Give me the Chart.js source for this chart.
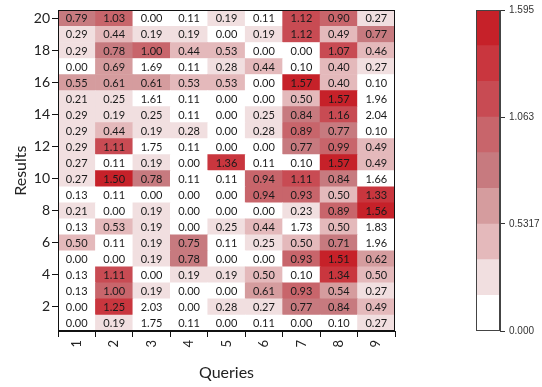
<!DOCTYPE html>
<html>
<head>
<meta charset="utf-8">
<script src="https://cdn.jsdelivr.net/npm/chart.js@4.4.1/dist/chart.umd.min.js"></script>
<style>
  html, body { margin: 0; padding: 0; background: #ffffff; }
  #wrap { position: relative; width: 542px; height: 387px; overflow: hidden; }
  #heatBox { position: absolute; left: 0; top: 0; width: 440px; height: 387px; }
  #barBox { position: absolute; left: 440px; top: 0; width: 102px; height: 387px; }
</style>
</head>
<body>
<div id="wrap">
  <div id="heatBox"><canvas id="heat"></canvas></div>
  <div id="barBox"><canvas id="scaleBar"></canvas></div>
</div>
<script>
// Query columns and result rows
const queries = ['1', '2', '3', '4', '5', '6', '7', '8', '9'];
const resultTicks = [2, 4, 6, 8, 10, 12, 14, 16, 18, 20];

// Scores per result (values for queries 1..9)
const res20 = [0.79, 1.03, 0.00, 0.11, 0.19, 0.11, 1.12, 0.90, 0.27];
const res19 = [0.29, 0.44, 0.19, 0.19, 0.00, 0.19, 1.12, 0.49, 0.77];
const res18 = [0.29, 0.78, 1.00, 0.44, 0.53, 0.00, 0.00, 1.07, 0.46];
const res17 = [0.00, 0.69, 1.69, 0.11, 0.28, 0.44, 0.10, 0.40, 0.27];
const res16 = [0.55, 0.61, 0.61, 0.53, 0.53, 0.00, 1.57, 0.40, 0.10];
const res15 = [0.21, 0.25, 1.61, 0.11, 0.00, 0.00, 0.50, 1.57, 1.96];
const res14 = [0.29, 0.19, 0.25, 0.11, 0.00, 0.25, 0.84, 1.16, 2.04];
const res13 = [0.29, 0.44, 0.19, 0.28, 0.00, 0.28, 0.89, 0.77, 0.10];
const res12 = [0.29, 1.11, 1.75, 0.11, 0.00, 0.00, 0.77, 0.99, 0.49];
const res11 = [0.27, 0.11, 0.19, 0.00, 1.36, 0.11, 0.10, 1.57, 0.49];
const res10 = [0.27, 1.50, 0.78, 0.11, 0.11, 0.94, 1.11, 0.84, 1.66];
const res9  = [0.13, 0.11, 0.00, 0.00, 0.00, 0.94, 0.93, 0.50, 1.33];
const res8  = [0.21, 0.00, 0.19, 0.00, 0.00, 0.00, 0.23, 0.89, 1.56];
const res7  = [0.13, 0.53, 0.19, 0.00, 0.25, 0.44, 1.73, 0.50, 1.83];
const res6  = [0.50, 0.11, 0.19, 0.75, 0.11, 0.25, 0.50, 0.71, 1.96];
const res5  = [0.00, 0.00, 0.19, 0.78, 0.00, 0.00, 0.93, 1.51, 0.62];
const res4  = [0.13, 1.11, 0.00, 0.19, 0.19, 0.50, 0.10, 1.34, 0.50];
const res3  = [0.13, 1.00, 0.19, 0.00, 0.00, 0.61, 0.93, 0.54, 0.27];
const res2  = [0.00, 1.25, 2.03, 0.00, 0.28, 0.27, 0.77, 0.84, 0.49];
const res1  = [0.00, 0.19, 1.75, 0.11, 0.00, 0.11, 0.00, 0.10, 0.27];

const resultRows = [res1, res2, res3, res4, res5, res6, res7, res8, res9, res10,
                    res11, res12, res13, res14, res15, res16, res17, res18, res19, res20];

// Colour scale: 9 equal steps from 0 to the maximum; values above it stay white
const scaleMax = 1.595;
const scaleTickValues = [0, 0.5317, 1.063, 1.595];
const scaleTickLabels = ['0.000', '0.5317', '1.063', '1.595'];
const stepColors = ['#ffffff', '#f1dfe0', '#e4b9bb', '#d59c9e', '#c77a7f',
                    '#c8656b', '#c84b53', '#c9363e', '#c62129'];

function colorFor(v) {
  if (v > scaleMax) return '#ffffff';
  const step = scaleMax / stepColors.length;
  const i = Math.min(stepColors.length - 1, Math.floor(v / step));
  return stepColors[i];
}

const textFont = 'Lato, "Open Sans", "DejaVu Sans", sans-serif';

// Each result row is a dataset of floating bars spanning [row-0.5, row+0.5]
const heatDatasets = resultRows.map((vals, r) => ({
  label: 'Result ' + (r + 1),
  data: vals.map(() => [r + 0.5, r + 1.5]),
  scores: vals,
  backgroundColor: ctx => colorFor(vals[ctx.dataIndex]),
  borderWidth: 0,
  barPercentage: 1,
  categoryPercentage: 1
}));

const cellLabels = {
  id: 'cellLabels',
  afterDatasetsDraw(chart) {
    const ctx = chart.ctx;
    ctx.save();
    ctx.font = '11px ' + textFont;
    ctx.fillStyle = '#1a1a1a';
    ctx.textAlign = 'center';
    ctx.textBaseline = 'middle';
    chart.data.datasets.forEach((ds, di) => {
      const meta = chart.getDatasetMeta(di);
      meta.data.forEach((el, i) => {
        const cy = (el.y + el.base) / 2;
        ctx.fillText(ds.scores[i].toFixed(2), el.x, cy + 0.5);
      });
    });
    ctx.restore();
  }
};

const frame = color => ({
  id: 'frame',
  afterDraw(chart) {
    const a = chart.chartArea;
    const ctx = chart.ctx;
    ctx.save();
    ctx.strokeStyle = color;
    ctx.lineWidth = 1;
    ctx.strokeRect(Math.round(a.left) + 0.5, Math.round(a.top) + 0.5,
                   Math.round(a.right - a.left) - 1, Math.round(a.bottom - a.top) - 1);
    ctx.restore();
  }
});

new Chart(document.getElementById('heat'), {
  type: 'bar',
  data: { labels: queries, datasets: heatDatasets },
  plugins: [cellLabels, frame('#111111')],
  options: {
    responsive: true,
    maintainAspectRatio: false,
    animation: false,
    events: [],
    layout: { padding: { left: 0, top: 6, right: 45, bottom: 0 } },
    plugins: { legend: { display: false }, tooltip: { enabled: false } },
    scales: {
      x: {
        type: 'category',
        stacked: true,
        offset: true,
        grid: { display: true, drawOnChartArea: false, drawTicks: true, tickLength: 6, color: '#111111', lineWidth: 1 },
        border: { display: true, color: '#111111' },
        ticks: { minRotation: 90, maxRotation: 90, padding: 3, color: '#222222', font: { family: textFont, size: 13 } },
        title: { display: true, text: 'Queries', color: '#222222', font: { family: textFont, size: 16 }, padding: { top: 0, bottom: 5 } },
        afterFit(scale) { scale.height = 56; }
      },
      y: {
        type: 'linear',
        stacked: false,
        min: 0.5,
        max: 20.5,
        afterBuildTicks(scale) { scale.ticks = resultTicks.map(v => ({ value: v })); },
        grid: { display: true, drawOnChartArea: false, drawTicks: true, tickLength: 6, color: '#111111', lineWidth: 1 },
        border: { display: true, color: '#111111' },
        ticks: { padding: 2, color: '#222222', font: { family: textFont, size: 14 }, callback: v => String(v) },
        title: { display: true, text: 'Results', color: '#222222', font: { family: textFont, size: 16 }, padding: { top: 11, bottom: 0 } },
        afterFit(scale) { scale.width = 58; }
      }
    }
  }
});

// Colour bar: one floating bar per colour step
const stepEdges = stepColors.map((c, i) => [i * scaleMax / stepColors.length, (i + 1) * scaleMax / stepColors.length]);

new Chart(document.getElementById('scaleBar'), {
  type: 'bar',
  data: {
    labels: [''],
    datasets: stepEdges.map((edge, i) => ({
      data: [edge],
      backgroundColor: stepColors[i],
      borderWidth: 0,
      barPercentage: 1,
      categoryPercentage: 1
    }))
  },
  plugins: [frame('#444444')],
  options: {
    responsive: true,
    maintainAspectRatio: false,
    animation: false,
    events: [],
    layout: { padding: { left: 36, top: 6, right: 0, bottom: 56 } },
    plugins: { legend: { display: false }, tooltip: { enabled: false } },
    scales: {
      x: { display: false, stacked: true, offset: true },
      y: {
        position: 'right',
        min: 0,
        max: scaleMax,
        afterBuildTicks(scale) { scale.ticks = scaleTickValues.map(v => ({ value: v })); },
        grid: { display: true, drawOnChartArea: false, drawTicks: true, tickLength: 5, color: '#333333' },
        border: { display: true, color: '#444444' },
        ticks: {
          padding: 4,
          color: '#333333',
          font: { family: '"Liberation Sans", Arial, sans-serif', size: 10 },
          callback: (v, i) => scaleTickLabels[i]
        },
        afterFit(scale) { scale.width = 42; }
      }
    }
  }
});
</script>
</body>
</html>
